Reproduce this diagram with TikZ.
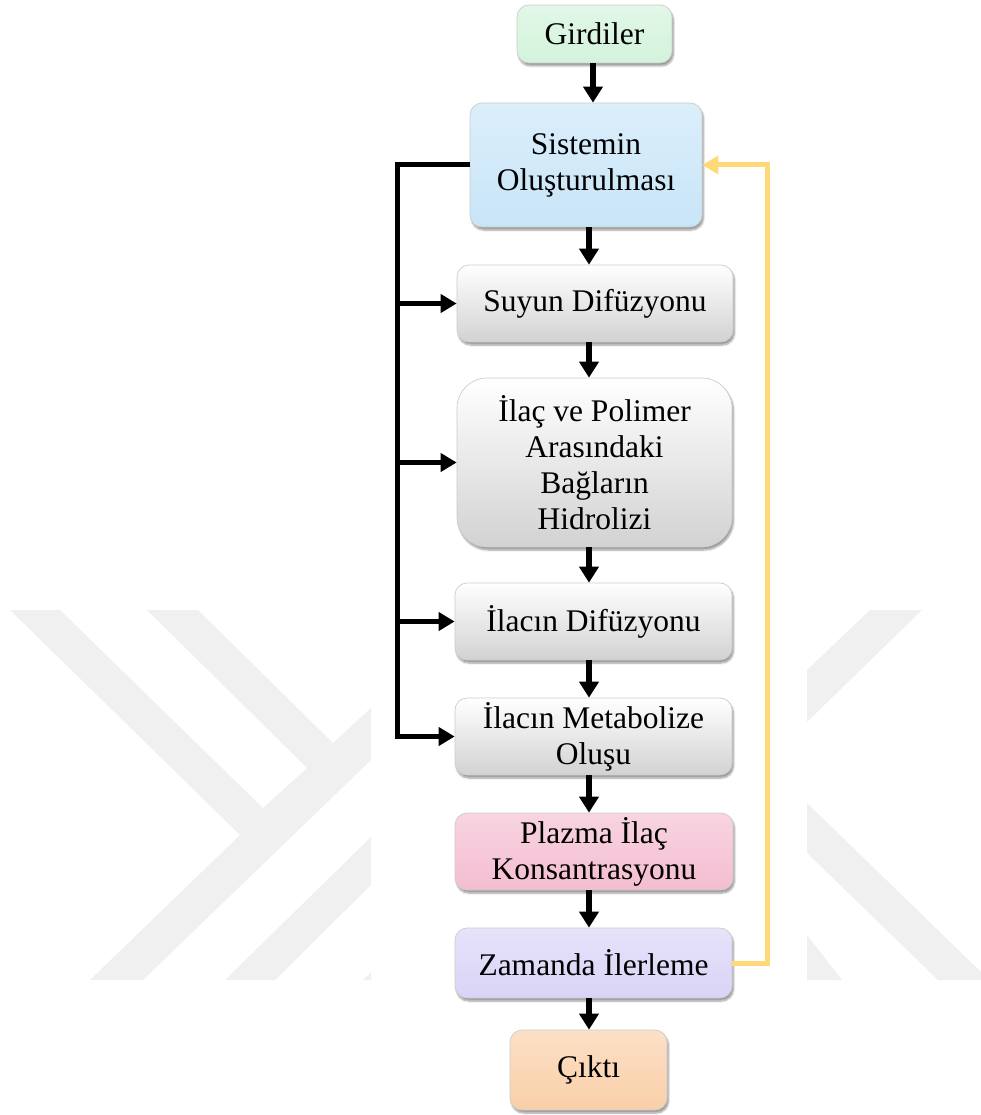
\documentclass[tikz,border=0pt]{standalone}
\usepackage{fontspec}
\setmainfont{Liberation Serif}
\usetikzlibrary{arrows.meta,shadows.blur}
\definecolor{wm}{HTML}{F0F0F0}
\definecolor{cgreen}{HTML}{D2F3DB}
\definecolor{cblue}{HTML}{C8E5F8}
\definecolor{cgray}{HTML}{D2D2D2}
\definecolor{cpink}{HTML}{F4BDD1}
\definecolor{clav}{HTML}{DAD3F7}
\definecolor{cpeach}{HTML}{FACFA8}
\definecolor{cyel}{HTML}{FFD978}
\tikzset{
  bx/.style={rounded corners=12pt, align=center, inner sep=0pt,
    font=\fontsize{31.5}{36}\selectfont, draw=black!20, line width=0.7pt,
    blur shadow={shadow xshift=1.5pt, shadow yshift=-3pt, shadow blur steps=6, shadow opacity=40}},
  colbx/.style={bx, top color=#1!65!white, bottom color=#1},
  graybx/.style={bx, top color=white, bottom color=cgray},
  blk/.style={line width=6pt, -{Triangle[length=16pt,width=19pt]}},
  blkside/.style={line width=5pt, -{Triangle[length=16pt,width=18pt]}},
  yel/.style={draw=cyel, line width=5pt, -{Triangle[length=16pt,width=18pt]}}
}
\begin{document}
\begin{tikzpicture}[x=1pt,y=-1pt]
\useasboundingbox (0,0) rectangle (981,1115);
% watermark
\fill[wm] (10,610) -- (60,610) -- (263,808) -- (307,768) -- (147,610) -- (198,610) -- (333,743) -- (371,708) -- (371,760) -- (143,980) -- (90,980) -- (240,835) -- cycle;
\fill[wm] (225,980) -- (275,980) -- (371,885) -- (371,837) -- cycle;
\fill[wm] (363,980) -- (371,980) -- (371,972) -- cycle;
\fill[wm] (870,610) -- (922,610) -- (807,722) -- (807,670) -- cycle;
\fill[wm] (807,803) -- (981,972) -- (981,980) -- (938,980) -- (807,853) -- cycle;
\fill[wm] (807,935) -- (842,980) -- (807,980) -- cycle;
% nodes
\node[colbx=cgreen, minimum width=155pt, minimum height=58pt] (gird) at (594.5,34) {Girdiler};
\node[colbx=cblue, minimum width=232pt, minimum height=124pt] (sist) at (586,165) {Sistemin\\Oluşturulması};
\node[graybx, minimum width=276pt, minimum height=77pt] (suy) at (595,303.5) {Suyun Difüzyonu};
\node[graybx, rounded corners=30pt, minimum width=275pt, minimum height=169pt] (hyd) at (594.5,462.5) {İlaç ve Polimer\\Arasındaki\\Bağların\\Hidrolizi};
\node[graybx, minimum width=277pt, minimum height=77pt] (dif) at (593.5,621.5) {İlacın Difüzyonu};
\node[graybx, minimum width=277pt, minimum height=77pt] (met) at (593.5,736.5) {İlacın Metabolize\\Oluşu};
\node[colbx=cpink, minimum width=278pt, minimum height=77pt] (plz) at (594,851.5) {Plazma İlaç\\Konsantrasyonu};
\node[colbx=clav, minimum width=277pt, minimum height=70pt] (zam) at (593.5,963) {Zamanda İlerleme};
\node[colbx=cpeach, minimum width=157pt, minimum height=80pt] (cik) at (588.5,1070) {Çıktı};
% helper coordinates
\coordinate (xa) at (593,0);
\coordinate (xm) at (589,0);
\coordinate (L) at (397,0);
\coordinate (R) at (767,0);
% main vertical arrows
\draw[blk] (gird.south -| xa) -- (sist.north -| xa);
\draw[blk] (sist.south -| xm) -- (suy.north -| xm);
\draw[blk] (suy.south -| xm) -- (hyd.north -| xm);
\draw[blk] (hyd.south -| xm) -- (dif.north -| xm);
\draw[blk] (dif.south -| xm) -- (met.north -| xm);
\draw[blk] (met.south -| xm) -- (plz.north -| xm);
\draw[blk] (plz.south -| xm) -- (zam.north -| xm);
\draw[blk] (zam.south -| xm) -- (cik.north -| xm);
% left feedback
\draw[blkside] (sist.west) -| (L |- met.west) -- (met.west);
\draw[blkside] (L |- suy.west) -- (suy.west);
\draw[blkside] (L |- hyd.west) -- (hyd.west);
\draw[blkside] (L |- dif.west) -- (dif.west);
% yellow loop
\draw[yel] (zam.east) -| (R |- sist.east) -- (sist.east);
\end{tikzpicture}
\end{document}
